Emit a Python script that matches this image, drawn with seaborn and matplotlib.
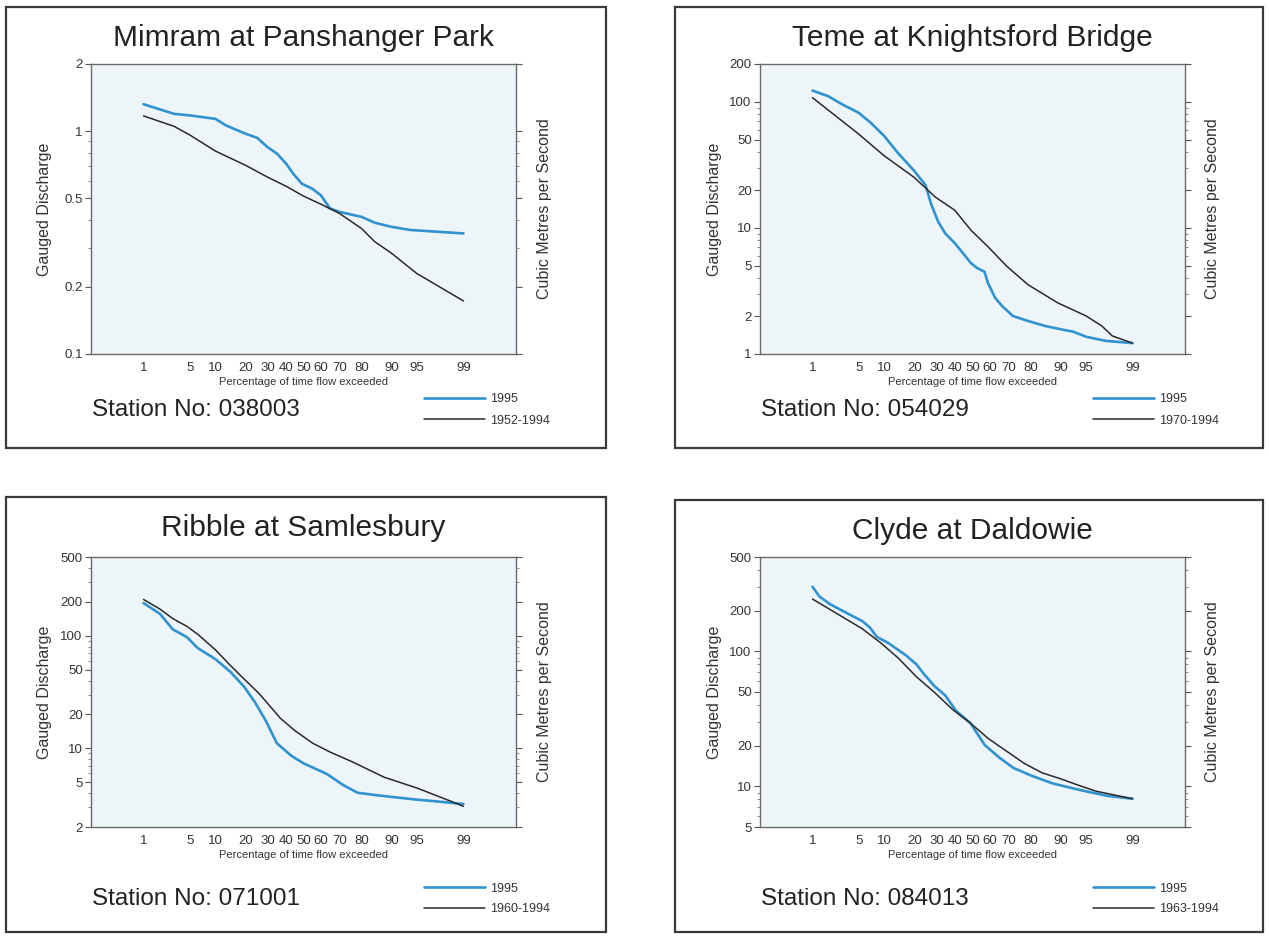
import statistics

import matplotlib
matplotlib.use("Agg")
import matplotlib.pyplot as plt
from matplotlib.patches import Rectangle
import numpy as np
import seaborn as sns

sns.set_theme(style="white")
plt.rcParams["font.family"] = ["Liberation Sans", "DejaVu Sans"]

# ---------------------------------------------------------------------------
# Flow duration data: percentage of time exceeded and discharge (m3/s)
# ---------------------------------------------------------------------------
mimram_pct_1995 = [1, 3, 5, 10, 13, 20, 25, 30, 35, 40, 44, 49, 55, 60, 65, 70,
                   80, 85, 90, 94, 99]
mimram_q_1995 = [1.32, 1.195, 1.175, 1.135, 1.06, 0.973, 0.933, 0.848, 0.792,
                 0.715, 0.645, 0.581, 0.552, 0.515, 0.45, 0.434, 0.4125, 0.388,
                 0.372, 0.36, 0.3475]
mimram_pct_hist = [1, 3, 5, 10, 20, 30, 40, 50, 60, 70, 80, 85, 90, 95, 99]
mimram_q_hist = [1.17, 1.05, 0.957, 0.814, 0.702, 0.622, 0.566, 0.511, 0.47,
                 0.427, 0.366, 0.319, 0.283, 0.23, 0.173]

teme_pct_1995 = [1, 1.8, 2.9, 4.9, 6.9, 9.9, 14.2, 19.7, 24.8, 27.3, 30.9,
                 34.6, 39.9, 44.5, 49.1, 52.8, 56.9, 58.9, 62.9, 66.7, 72.2,
                 79, 85.4, 89.2, 92.9, 95.1, 97.4, 99]
teme_q_1995 = [123, 111, 95.7, 82, 68.6, 53.9, 38.6, 28.6, 21.8, 15.6, 11.2,
               9.06, 7.56, 6.3, 5.26, 4.8, 4.5, 3.66, 2.79, 2.40, 2.0, 1.83,
               1.67, 1.59, 1.50, 1.37, 1.27, 1.22]
teme_pct_hist = [1, 4.9, 9.9, 19.7, 29.4, 39.9, 49.1, 58.9, 69.2, 79, 89.2,
                 95.1, 97, 97.9, 99]
teme_q_hist = [108, 55.6, 37.5, 25.3, 17.6, 13.8, 9.6, 7.1, 4.95, 3.55, 2.55,
               2.0, 1.67, 1.39, 1.22]

ribble_pct_1995 = [1, 1.85, 2.86, 4.5, 6.2, 10, 14.3, 19.5, 24.1, 29.3, 34.9,
                   42.9, 50, 63.4, 71.8, 78.4, 85, 90, 95, 97, 99]
ribble_q_1995 = [195, 156, 114, 97, 77.6, 62, 48, 35, 25.5, 17.4, 11.1, 8.6,
                 7.36, 5.9, 4.72, 4.03, 3.85, 3.7, 3.5, 3.4, 3.2]
ribble_pct_hist = [1, 1.85, 2.86, 4.5, 6.2, 10, 14.3, 19.5, 25.8, 31.1, 36.8,
                   44.9, 55.3, 65.4, 76, 88, 95, 98.3, 99]
ribble_q_hist = [210, 172, 142, 121, 103, 75, 54.7, 41, 30.8, 23.9, 18.5,
                 14.4, 11.1, 9.2, 7.6, 5.53, 4.45, 3.43, 3.05]

clyde_pct_1995 = [1, 1.3, 1.93, 3.15, 5.5, 6.8, 8.2, 10.9, 16.6, 20.8, 23.9,
                  29, 34.6, 40.5, 48.8, 57, 65, 72.4, 80.4, 87.9, 93.8, 97.5,
                  99]
clyde_q_1995 = [301, 255, 223, 196, 167, 150, 128, 116, 93.6, 80, 68.2, 55.3,
                47.2, 36.3, 29.4, 20.3, 16.4, 13.7, 12.0, 10.5, 9.46, 8.5, 8.1]
clyde_pct_hist = [1, 3.15, 5.5, 9.1, 14.1, 20.8, 29, 38.5, 48.8, 59.1, 68.8,
                  77.4, 84.4, 89.9, 93.8, 96.4, 99]
clyde_q_hist = [244, 176, 146.5, 115.6, 88.8, 64.7, 49.7, 37.2, 29.4, 22.6,
                18.3, 14.8, 12.6, 11.4, 10.2, 9.2, 8.1]

x_ticks = [1, 5, 10, 20, 30, 40, 50, 60, 70, 80, 90, 95, 99]

# frame = (left, top, width, height) in pixels; ax_h = plot height in pixels;
# legend/station offsets are measured down from the bottom of the plot area
stations = [
    dict(title="Mimram at Panshanger Park", number="038003", period="1952-1994",
         p95=mimram_pct_1995, q95=mimram_q_1995,
         ph=mimram_pct_hist, qh=mimram_q_hist,
         yticks=[0.1, 0.2, 0.5, 1, 2], ylim=(0.1, 2),
         frame=(6, 7, 600, 441), ax_h=290, leg_dy=56, st_dy=56),
    dict(title="Teme at Knightsford Bridge", number="054029", period="1970-1994",
         p95=teme_pct_1995, q95=teme_q_1995,
         ph=teme_pct_hist, qh=teme_q_hist,
         yticks=[1, 2, 5, 10, 20, 50, 100, 200], ylim=(1, 200),
         frame=(675, 7, 588, 441), ax_h=290, leg_dy=56, st_dy=56),
    dict(title="Ribble at Samlesbury", number="071001", period="1960-1994",
         p95=ribble_pct_1995, q95=ribble_q_1995,
         ph=ribble_pct_hist, qh=ribble_q_hist,
         yticks=[2, 5, 10, 20, 50, 100, 200, 500], ylim=(2, 500),
         frame=(6, 497, 600, 435), ax_h=270, leg_dy=72, st_dy=72),
    dict(title="Clyde at Daldowie", number="084013", period="1963-1994",
         p95=clyde_pct_1995, q95=clyde_q_1995,
         ph=clyde_pct_hist, qh=clyde_q_hist,
         yticks=[5, 10, 20, 50, 100, 200, 500], ylim=(5, 500),
         frame=(675, 500, 588, 432), ax_h=270, leg_dy=72, st_dy=72),
]

# ---------------------------------------------------------------------------
# Normal-probability scale for the exceedance axis
# ---------------------------------------------------------------------------
_nd = statistics.NormalDist()
_ppf = np.vectorize(_nd.inv_cdf, otypes=[float])
_cdf = np.vectorize(_nd.cdf, otypes=[float])


def pct_to_z(p):
    q = np.clip(np.asarray(p, dtype=float) / 100.0, 1e-7, 1 - 1e-7)
    return _ppf(q)


def z_to_pct(z):
    return _cdf(np.asarray(z, dtype=float)) * 100.0


W, H = 1269, 936
fig = plt.figure(figsize=(W / 100, H / 100), dpi=100)
fig.patch.set_facecolor("white")


def fx(px):
    return px / W


def fy(py):
    return 1 - py / H


BLUE = "#3093cf"
DARK = "#2a2a2a"
FACE = "#eef5f9"
SPINE = "#6a6a6a"
TEXT = "#222222"

AX_DX, AX_DY, AX_W = 85, 57, 425

for st in stations:
    x0, y0, fw, fh = st["frame"]
    left, top = x0 + AX_DX, 7 + AX_DY if y0 < 100 else 500 + AX_DY
    right, bottom = left + AX_W, top + st["ax_h"]

    fig.add_artist(Rectangle((fx(x0), fy(y0 + fh)), fw / W, fh / H,
                             transform=fig.transFigure, fill=False,
                             lw=1.6, ec="#3a3a3a"))

    ax = fig.add_axes([fx(left), fy(bottom), AX_W / W, st["ax_h"] / H])
    ax.set_facecolor(FACE)
    ax.set_xscale("function", functions=(pct_to_z, z_to_pct))
    ax.set_yscale("log")

    sns.lineplot(x=st["p95"], y=st["q95"], ax=ax, color=BLUE, lw=1.9,
                 sort=False, estimator=None, label="1995")
    sns.lineplot(x=st["ph"], y=st["qh"], ax=ax, color=DARK, lw=1.1,
                 sort=False, estimator=None, label=st["period"])

    ax.set_xlim(0.1, 99.9)
    ax.set_ylim(*st["ylim"])
    ax.set_xticks(x_ticks, labels=[str(v) for v in x_ticks])
    ax.xaxis.set_minor_locator(matplotlib.ticker.NullLocator())
    ax.set_yticks(st["yticks"], labels=["%g" % v for v in st["yticks"]])
    ax.set_xlabel("")
    ax.set_ylabel("")

    for sp in ax.spines.values():
        sp.set_color(SPINE)
        sp.set_linewidth(1.0)
    ax.tick_params(axis="both", which="major", direction="out", length=4,
                   width=0.8, color="#555555", labelsize=9.5,
                   labelcolor="#333333", pad=2)
    ax.tick_params(axis="y", which="minor", direction="out", length=2,
                   width=0.6, color="#777777", left=True)
    ax.tick_params(axis="y", which="minor", labelleft=False)
    ax.tick_params(axis="x", which="major", pad=1.5)

    ax2 = ax.twinx()
    ax2.set_yscale("log")
    ax2.set_ylim(*st["ylim"])
    ax2.set_yticks(st["yticks"], labels=[""] * len(st["yticks"]))
    ax2.tick_params(axis="y", which="major", direction="out", length=4,
                    width=0.8, color="#555555")
    ax2.tick_params(axis="y", which="minor", direction="out", length=2,
                    width=0.6, color="#777777", right=True, labelright=False)
    for sp in ax2.spines.values():
        sp.set_visible(False)

    leg = ax.legend(loc="center left",
                    bbox_to_anchor=(fx(right - 92), fy(bottom + st["leg_dy"])),
                    bbox_transform=fig.transFigure, frameon=False,
                    borderpad=0, borderaxespad=0, handlelength=4.9,
                    labelspacing=0.72, handletextpad=0.35, fontsize=9)
    for t in leg.get_texts():
        t.set_color("#333333")

    cx = (left + right) / 2
    fig.text(fx(cx), fy(y0 + 39), st["title"], ha="center", va="baseline",
             fontsize=21.5, color=TEXT)
    fig.text(fx(left - 46), fy((top + bottom) / 2), "Gauged Discharge",
             rotation=90, ha="center", va="center", fontsize=11.5,
             color="#333333")
    fig.text(fx(right + 28), fy((top + bottom) / 2), "Cubic Metres per Second",
             rotation=90, ha="center", va="center", fontsize=11.5,
             color="#333333")
    fig.text(fx(cx), fy(bottom + 28), "Percentage of time flow exceeded",
             ha="center", va="center", fontsize=8, color="#333333")
    fig.text(fx(left + 1), fy(bottom + st["st_dy"]), "Station No: " + st["number"],
             ha="left", va="center", fontsize=17.5, color=TEXT)

fig.savefig("out.png", dpi=100, facecolor="white")
